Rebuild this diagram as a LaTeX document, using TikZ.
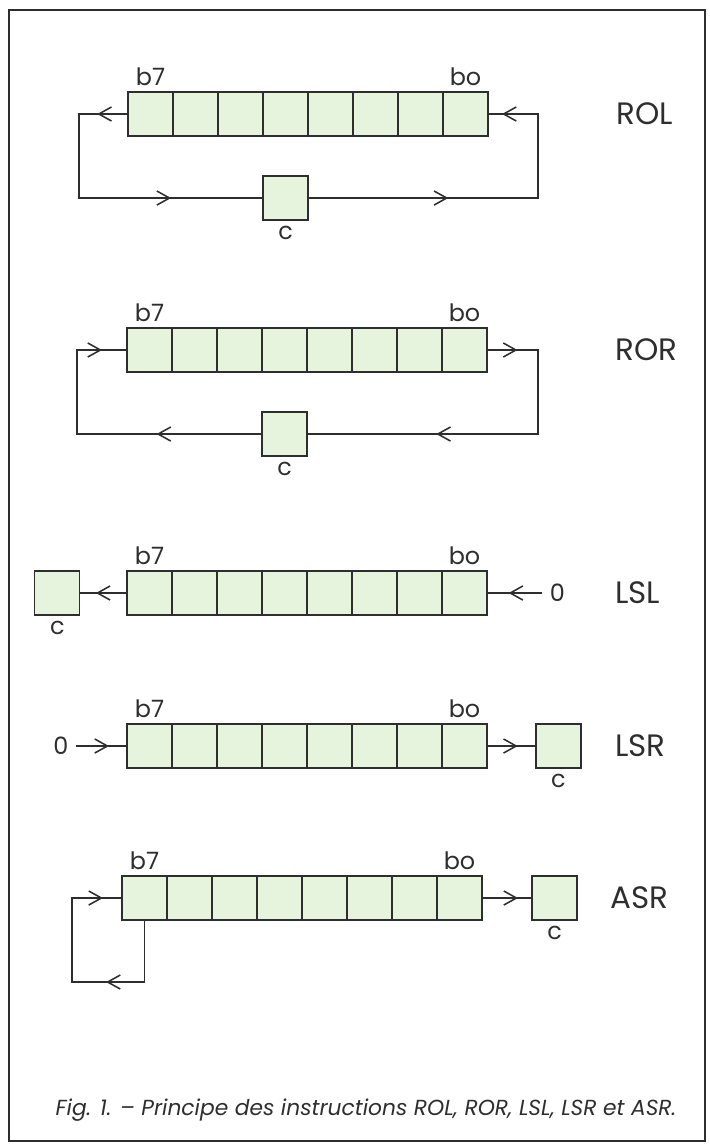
\documentclass[tikz,border=0pt]{standalone}
\usepackage{fontspec}
\setmainfont{Poppins}
\usetikzlibrary{arrows.meta, positioning, decorations.markings}
\definecolor{cellgreen}{HTML}{E6F4DE}
\colorlet{ink}{black!82}

\begin{document}
\begin{tikzpicture}[x=0.025cm, y=-0.025cm,
    cell/.style={draw=ink, fill=cellgreen, line width=1pt, minimum width=1.125cm, minimum height=1.1cm, inner sep=0pt, outer sep=0pt},
    bitlabel/.style={inner sep=0pt, text=ink, font=\fontsize{17}{17}\selectfont},
    zero/.style={inner ysep=0pt, inner xsep=6pt, text=ink, font=\fontsize{17}{17}\selectfont},
    oplabel/.style={inner sep=0pt, anchor=west, text=ink, font=\fontsize{22}{22}\selectfont},
    wire/.style={ink, line width=1.1pt, line cap=rect},
    arrowat/.style={postaction={decorate}, decoration={markings, mark=at position #1 with {\arrow{Straight Barb[length=9pt, width=10pt, line width=1.1pt]}}}},
    arrowat/.default=0.5]
  \useasboundingbox (0,0) rectangle (710,1144);
  \draw[ink, line width=1.8pt] (9,10) rectangle (705,1141);

  % the five registers, b7 on the left
  \foreach \r/\x/\y/\op in {rol/128/92/ROL, ror/127/328/ROR, lsl/127/571/LSL, lsr/127/724/LSR, asr/122/876/ASR} {
    \foreach \i [evaluate=\i as \b using {int(7-\i)}] in {0,...,7} {
      \node[cell, anchor=north west] (\r-b\b) at (\x+45*\i, \y) {};
    }
    \node[bitlabel, above=4pt of \r-b7] (\r-l7) {b7};
    \node[bitlabel, above=4pt of \r-b0] (\r-l0) {bo};
    \node[oplabel, right=3.2cm of \r-b0.east] (\r-name) {\op};
  }

  % carry boxes
  \node[cell, below=1cm of rol-b4] (rol-c) {};
  \node[cell, below=1cm of ror-b4] (ror-c) {};
  \node[cell, left=1.18cm of lsl-b7] (lsl-c) {};
  \node[cell, right=1.22cm of lsr-b0] (lsr-c) {};
  \node[cell, right=1.25cm of asr-b0] (asr-c) {};
  \foreach \r in {rol, ror, lsl, lsr, asr} {
    \node[bitlabel, below=4pt of \r-c] (\r-cl) {c};
  }

  % ROL
  \coordinate[left=1.22cm of rol-b7.west] (rol-nw);
  \coordinate[right=1.25cm of rol-b0.east] (rol-ne);
  \coordinate (rol-sw) at (rol-nw |- rol-c.west);
  \coordinate (rol-se) at (rol-ne |- rol-c.east);
  \draw[wire, arrowat=0.63] (rol-b7.west) -- (rol-nw);
  \draw[wire] (rol-nw) -- (rol-sw);
  \draw[wire, arrowat=0.5] (rol-sw) -- (rol-c.west);
  \draw[wire, arrowat=0.61] (rol-c.east) -- (rol-se);
  \draw[wire] (rol-se) -- (rol-ne);
  \draw[wire, arrowat=0.72] (rol-ne) -- (rol-b0.east);

  % ROR
  \coordinate[left=1.25cm of ror-b7.west] (ror-nw);
  \coordinate[right=1.27cm of ror-b0.east] (ror-ne);
  \coordinate (ror-sw) at (ror-nw |- ror-c.west);
  \coordinate (ror-se) at (ror-ne |- ror-c.east);
  \draw[wire, arrowat=0.6] (ror-b0.east) -- (ror-ne);
  \draw[wire] (ror-ne) -- (ror-se);
  \draw[wire, arrowat=0.44] (ror-se) -- (ror-c.east);
  \draw[wire, arrowat=0.57] (ror-c.west) -- (ror-sw);
  \draw[wire] (ror-sw) -- (ror-nw);
  \draw[wire, arrowat=0.5] (ror-nw) -- (ror-b7.west);

  % LSL
  \node[zero, right=1.35cm of lsl-b0] (lsl-zero) {0};
  \draw[wire, arrowat=0.6] (lsl-zero.west) -- (lsl-b0.east);
  \draw[wire, arrowat=0.66] (lsl-b7.west) -- (lsl-c.east);

  % LSR
  \node[zero, left=1.25cm of lsr-b7] (lsr-zero) {0};
  \draw[wire, arrowat=0.64] (lsr-zero.east) -- (lsr-b7.west);
  \draw[wire, arrowat=0.63] (lsr-b0.east) -- (lsr-c.west);

  % ASR
  \coordinate[below=1.55cm of asr-b7.south] (asr-se);
  \coordinate[left=1.25cm of asr-b7.west] (asr-nw);
  \coordinate (asr-sw) at (asr-nw |- asr-se);
  \draw[wire] (asr-b7.south) -- (asr-se);
  \draw[wire, arrowat=0.53] (asr-se) -- (asr-sw);
  \draw[wire] (asr-sw) -- (asr-nw);
  \draw[wire, arrowat=0.62] (asr-nw) -- (asr-b7.west);
  \draw[wire, arrowat=0.72] (asr-b0.east) -- (asr-c.west);

  \node[text=ink, font=\itshape\fontsize{15.5}{15.5}\selectfont] (caption) at (366,1110)
    {Fig. 1. – Principe des instructions ROL, ROR, LSL, LSR et ASR.};
\end{tikzpicture}
\end{document}
